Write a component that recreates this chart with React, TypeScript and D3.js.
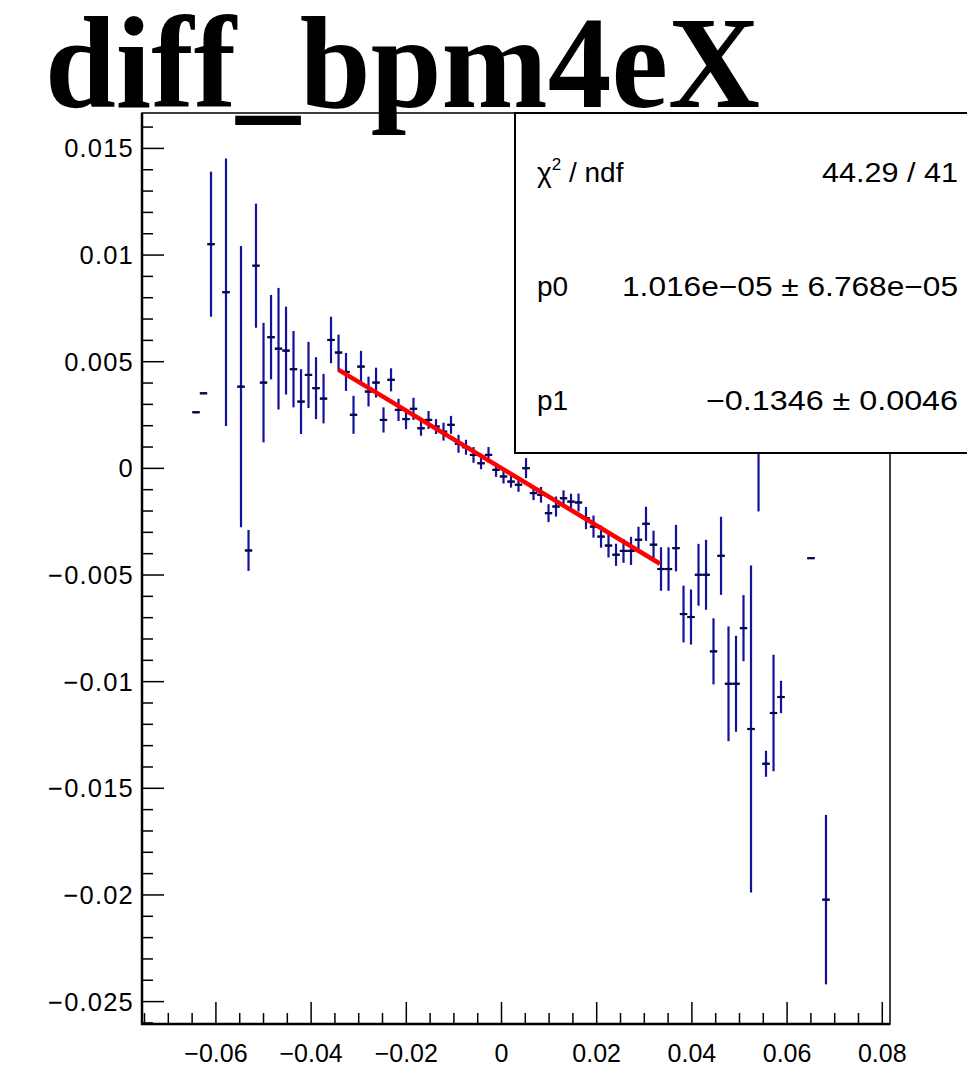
import React from "react";
import * as d3 from "d3";

const W = 967;
const H = 1083;

// Profile bins (bin centre x, mean y, error on mean)
const binX = [
  -0.06418, -0.06261, -0.06103, -0.05788, -0.05473, -0.05315, -0.05158, -0.05, -0.04842, -0.04685,
  -0.04527, -0.0437, -0.04212, -0.04055, -0.03897, -0.03739, -0.03582, -0.03424, -0.03267, -0.03109,
  -0.02952, -0.02794, -0.02636, -0.02479, -0.02321, -0.02164, -0.02006, -0.01849, -0.01691, -0.01533,
  -0.01376, -0.01218, -0.01061, -0.00903, -0.00746, -0.00588, -0.0043, -0.00273, -0.00115, 0.00042,
  0.002, 0.00357, 0.00515, 0.00672, 0.0083, 0.00988, 0.01145, 0.01303, 0.0146, 0.01618,
  0.01775, 0.01933, 0.02091, 0.02248, 0.02406, 0.02563, 0.02721, 0.02878, 0.03036, 0.03194,
  0.03351, 0.03509, 0.03666, 0.03824, 0.03981, 0.04139, 0.04297, 0.04454, 0.04612, 0.04769,
  0.04927, 0.05084, 0.05242, 0.054, 0.05557, 0.05715, 0.05872, 0.06502, 0.06817,
];
const binY = [
  0.00263, 0.00352, 0.01051, 0.00826, 0.00383, -0.00385, 0.0095, 0.00402, 0.00615, 0.00561,
  0.00552, 0.00465, 0.00313, 0.00438, 0.00376, 0.00327, 0.00602, 0.00543, 0.00452, 0.00251,
  0.00477, 0.0036, 0.00402, 0.00227, 0.00415, 0.00274, 0.00231, 0.00279, 0.00188, 0.00227,
  0.00196, 0.00172, 0.00204, 0.00115, 0.00099, 0.00063, 0.00024, 0.00063, -0.00007, -0.00038,
  -0.00062, -0.00077, 0.00001, -0.00116, -0.00124, -0.0021, -0.00179, -0.0014, -0.00156, -0.0016,
  -0.00233, -0.00273, -0.0032, -0.00362, -0.00405, -0.00387, -0.00387, -0.00335, -0.0026, -0.00358,
  -0.00472, -0.00472, -0.00374, -0.00683, -0.00697, -0.00499, -0.00499, -0.00858, -0.0041, -0.0101,
  -0.0101, -0.00749, -0.01222, 0.00251, -0.01385, -0.01147, -0.01072, -0.00421, -0.02022,
];
const binErr = [
  0, 0, 0.0034, 0.00627, 0.00659, 0.00096, 0.00291, 0.0028, 0.00198, 0.00285,
  0.00206, 0.00179, 0.00152, 0.00155, 0.00145, 0.00116, 0.00109, 0.00084, 0.00089, 0.00089,
  0.00074, 0.0007, 0.0007, 0.00059, 0.00054, 0.00052, 0.00047, 0.00052, 0.00035, 0.00042,
  0.00035, 0.00042, 0.00042, 0.00042, 0.00035, 0.00037, 0.00028, 0.00037, 0.00033, 0.00033,
  0.00028, 0.00033, 0.00047, 0.00033, 0.00037, 0.00042, 0.00047, 0.00037, 0.00037, 0.00042,
  0.00052, 0.00052, 0.00052, 0.00056, 0.00052, 0.00056, 0.00066, 0.00061, 0.0008, 0.00066,
  0.00102, 0.00102, 0.00109, 0.00133, 0.00129, 0.00145, 0.00164, 0.00155, 0.00183, 0.00269,
  0.00225, 0.00155, 0.00766, 0.00453, 0.00061, 0.00273, 0.00076, 0, 0.00397,
];
const binWidth = 0.0015756;

const xTickValues = [-0.06, -0.04, -0.02, 0, 0.02, 0.04, 0.06, 0.08];
const xTickLabels = ["\u22120.06", "\u22120.04", "\u22120.02", "0", "0.02", "0.04", "0.06", "0.08"];
const yTickValues = [0.015, 0.01, 0.005, 0, -0.005, -0.01, -0.015, -0.02, -0.025];
const yTickLabels = ["0.015", "0.01", "0.005", "0", "\u22120.005", "\u22120.01", "\u22120.015", "\u22120.02", "\u22120.025"];

const fitP0 = 1.016e-5;
const fitP1 = -0.1346;
const fitRange = [-0.0343, 0.0333];

const statNames = ["\u03c7", "p0", "p1"];
const statValues = ["44.29 / 41", "1.016e\u221205 \u00b1 6.768e\u221205", "\u22120.1346 \u00b1 0.0046"];
const statValueWidths = [136, 336, 252];

const title = "diff_bpm4eX";

export default function App() {
  const left = 142, right = 890, top = 113, bottom = 1024;
  const x = d3.scaleLinear().domain([-0.07553, 0.08162]).range([left, right]);
  const y = d3.scaleLinear().domain([-0.02605, 0.01666]).range([bottom, top]);

  const xMinor = d3.range(-0.075, 0.0816, 0.005).filter((v) => x(v) >= left - 0.5 && x(v) <= right + 0.5);
  const yMinor = d3.range(-0.026, 0.0167, 0.001).filter((v) => y(v) <= bottom + 0.5 && y(v) >= top - 0.5);

  const blue = "#12129c";
  const fitLine = d3
    .line<number>()
    .x((v) => x(v))
    .y((v) => y(fitP0 + fitP1 * v));

  const labelFont = "'Liberation Sans', Arial, Helvetica, sans-serif";
  const rowY = (i: number) => 182 + i * 114;

  return (
    <svg width={W} height={H} style={{ position: "absolute", left: 0, top: 0, background: "#fff" }}>
      <rect x={0} y={0} width={W} height={H} fill="#fff" />
      {/* frame */}
      <rect x={left} y={top} width={right - left} height={bottom - top} fill="none" stroke="#000" strokeWidth={1.5} />
      <line x1={left} x2={left} y1={top} y2={bottom + 1} stroke="#000" strokeWidth={2.5} />
      <line x1={left - 1} x2={right} y1={bottom} y2={bottom} stroke="#000" strokeWidth={2.5} />

      {/* x ticks */}
      {xMinor.map((v, i) => {
        const isMajor = Math.abs(v / 0.02 - Math.round(v / 0.02)) < 1e-6;
        return (
          <line key={"xm" + i} x1={x(v)} x2={x(v)} y1={bottom} y2={bottom - (isMajor ? 22 : 11)} stroke="#000" strokeWidth={1.5} />
        );
      })}
      {xTickValues.map((v, i) => (
        <text key={"xl" + i} x={x(v)} y={1062} textAnchor="middle" fontFamily={labelFont} fontSize={25} fill="#000">
          {xTickLabels[i]}
        </text>
      ))}

      {/* y ticks */}
      {yMinor.map((v, i) => {
        const isMajor = Math.abs(v / 0.005 - Math.round(v / 0.005)) < 1e-6;
        return (
          <line key={"ym" + i} x1={left} x2={left + (isMajor ? 22 : 11)} y1={y(v)} y2={y(v)} stroke="#000" strokeWidth={1.5} />
        );
      })}
      {yTickValues.map((v, i) => (
        <text key={"yl" + i} x={134} y={y(v) + 9} textAnchor="end" fontFamily={labelFont} fontSize={25.5} letterSpacing={1.2} fill="#000">
          {yTickLabels[i]}
        </text>
      ))}

      {/* data points */}
      <g>
        {binX.map((bx, i) => (
          <g key={"p" + i}>
            {binErr[i] > 0 && (
              <line x1={x(bx)} x2={x(bx)} y1={y(binY[i] - binErr[i])} y2={y(binY[i] + binErr[i])} stroke={blue} strokeWidth={2.2} />
            )}
            <line
              x1={x(bx - binWidth / 2)}
              x2={x(bx + binWidth / 2)}
              y1={y(binY[i])}
              y2={y(binY[i])}
              stroke={blue}
              strokeWidth={2.2}
            />
            <line x1={x(bx) - 3.5} x2={x(bx) + 3.5} y1={y(binY[i])} y2={y(binY[i])} stroke="#0a0a40" strokeWidth={2} />
          </g>
        ))}
      </g>

      {/* fit */}
      <path d={fitLine(fitRange) || ""} stroke="#ff0000" strokeWidth={4.5} fill="none" />

      {/* stats box */}
      <rect x={515} y={113} width={470} height={340} fill="#fff" stroke="#000" strokeWidth={2} />
      <text x={537} y={rowY(0)} fontFamily={labelFont} fontSize={28} fill="#000">
        {statNames[0]}
        <tspan fontSize={17} dy={-12}>2</tspan>
        <tspan dy={12}>{" / ndf"}</tspan>
      </text>
      {statNames.slice(1).map((n, i) => (
        <text key={"sn" + i} x={537} y={rowY(i + 1)} fontFamily={labelFont} fontSize={28} fill="#000">
          {n}
        </text>
      ))}
      {statValues.map((v, i) => (
        <text
          key={"sv" + i}
          x={958 - statValueWidths[i]}
          y={rowY(i)}
          fontFamily={labelFont}
          fontSize={28}
          textLength={statValueWidths[i]}
          lengthAdjust="spacingAndGlyphs"
          fill="#000"
        >
          {v}
        </text>
      ))}

      {/* title */}
      <text
        x={45}
        y={107}
        fontFamily="'Liberation Serif', 'Times New Roman', serif"
        fontWeight="bold"
        fontSize={132}
        textLength={715}
        lengthAdjust="spacingAndGlyphs"
        fill="#000"
      >
        {title}
      </text>
    </svg>
  );
}
